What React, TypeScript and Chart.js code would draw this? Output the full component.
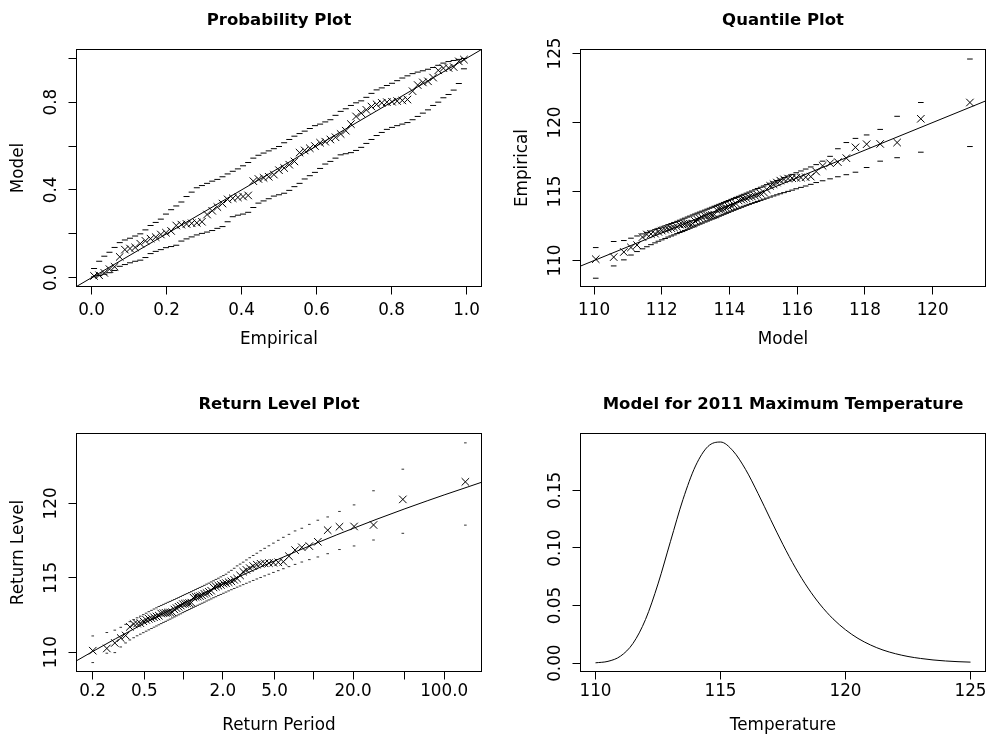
import React, { useEffect, useRef } from "react";
import { Chart, registerables } from "chart.js";

Chart.register(...registerables);

// ---------- Probability plot ----------
const empiricalProb = [
  0.0068, 0.0205, 0.0342, 0.0479, 0.0616, 0.0753, 0.089, 0.1027, 0.1164, 0.1301,
  0.1438, 0.1575, 0.1712, 0.1849, 0.1986, 0.2123, 0.226, 0.2397, 0.2534, 0.2671,
  0.2808, 0.2945, 0.3082, 0.3219, 0.3356, 0.3493, 0.363, 0.3767, 0.3904, 0.4041,
  0.4178, 0.4315, 0.4452, 0.4589, 0.4726, 0.4863, 0.5, 0.5137, 0.5274, 0.5411,
  0.5548, 0.5685, 0.5822, 0.5959, 0.6096, 0.6233, 0.637, 0.6507, 0.6644, 0.6781,
  0.6918, 0.7055, 0.7192, 0.7329, 0.7466, 0.7603, 0.774, 0.7877, 0.8014, 0.8151,
  0.8288, 0.8425, 0.8562, 0.8699, 0.8836, 0.8973, 0.911, 0.9247, 0.9384, 0.9521,
  0.9658, 0.9795, 0.9932,
];
const modelProb = [
  0.008, 0.011, 0.022, 0.039, 0.05, 0.095, 0.128, 0.133, 0.138, 0.155,
  0.168, 0.178, 0.185, 0.197, 0.205, 0.213, 0.238, 0.242, 0.245, 0.248,
  0.25, 0.255, 0.288, 0.305, 0.322, 0.338, 0.357, 0.362, 0.366, 0.37,
  0.375, 0.44, 0.45, 0.455, 0.46, 0.47, 0.49, 0.5, 0.515, 0.53,
  0.57, 0.58, 0.59, 0.6, 0.615, 0.62, 0.63, 0.64, 0.655, 0.67,
  0.7, 0.735, 0.75, 0.765, 0.78, 0.79, 0.797, 0.8, 0.802, 0.805,
  0.808, 0.812, 0.85, 0.878, 0.89, 0.895, 0.912, 0.945, 0.955, 0.956,
  0.96, 0.986, 0.994,
];
const probUpper = [
  0.042, 0.075, 0.098, 0.116, 0.138, 0.16, 0.172, 0.18, 0.19, 0.2,
  0.218, 0.238, 0.252, 0.267, 0.29, 0.31, 0.327, 0.345, 0.37, 0.39,
  0.41, 0.42, 0.43, 0.44, 0.448, 0.46, 0.473, 0.485, 0.496, 0.51,
  0.525, 0.545, 0.558, 0.568, 0.578, 0.588, 0.598, 0.615, 0.63, 0.645,
  0.657, 0.668, 0.68, 0.693, 0.7, 0.71, 0.72, 0.74, 0.758, 0.77,
  0.785, 0.797, 0.806, 0.822, 0.84, 0.856, 0.865, 0.876, 0.886, 0.898,
  0.91, 0.92, 0.93, 0.937, 0.943, 0.95, 0.958, 0.968, 0.978, 0.985,
  0.99, 0.995, 0.999,
];
const probLower = [
  0.004, 0.01, 0.016, 0.023, 0.033, 0.052, 0.06, 0.068, 0.075, 0.08,
  0.092, 0.11, 0.12, 0.128, 0.137, 0.142, 0.148, 0.167, 0.177, 0.186,
  0.195, 0.202, 0.208, 0.215, 0.225, 0.233, 0.255, 0.278, 0.285, 0.29,
  0.298, 0.32, 0.34, 0.35, 0.36, 0.372, 0.378, 0.385, 0.398, 0.415,
  0.43, 0.45, 0.465, 0.48, 0.498, 0.518, 0.53, 0.545, 0.56, 0.565,
  0.57, 0.58, 0.594, 0.612, 0.63, 0.648, 0.662, 0.676, 0.685, 0.693,
  0.7, 0.707, 0.72, 0.735, 0.75, 0.765, 0.785, 0.8, 0.82, 0.835,
  0.855, 0.885, 0.952,
];
const probAxisRange = [-0.04, 1.04];
const probTicks = [0, 0.2, 0.4, 0.6, 0.8, 1.0];
const probXLabels = ["0.0", "0.2", "0.4", "0.6", "0.8", "1.0"];
const probYLabelVals = [0, 0.4, 0.8];
const probYLabels = ["0.0", "0.4", "0.8"];

// ---------- Quantile plot ----------
const modelQuantile = [
  110.05, 110.58, 110.88, 111.09, 111.27, 111.43, 111.56, 111.68, 111.8, 111.9,
  112.0, 112.1, 112.19, 112.28, 112.36, 112.45, 112.53, 112.61, 112.68, 112.76,
  112.83, 112.91, 112.98, 113.05, 113.12, 113.19, 113.27, 113.34, 113.41, 113.48,
  113.55, 113.62, 113.69, 113.76, 113.83, 113.9, 113.97, 114.05, 114.12, 114.19,
  114.27, 114.35, 114.42, 114.5, 114.58, 114.66, 114.75, 114.83, 114.92, 115.01,
  115.1, 115.2, 115.3, 115.4, 115.5, 115.61, 115.73, 115.85, 115.97, 116.11,
  116.25, 116.4, 116.56, 116.75, 116.97, 117.2, 117.45, 117.72, 118.05, 118.45,
  118.95, 119.65, 121.1,
];
const observedTemp = [
  110.1, 110.25, 110.62, 110.95, 111.12, 111.7, 111.89, 111.92, 111.95, 112.08,
  112.17, 112.24, 112.28, 112.35, 112.4, 112.45, 112.6, 112.62, 112.64, 112.66,
  112.67, 112.69, 112.87, 112.96, 113.05, 113.13, 113.23, 113.26, 113.28, 113.3,
  113.33, 113.67, 113.72, 113.74, 113.77, 113.82, 113.92, 113.97, 114.05, 114.13,
  114.35, 114.41, 114.47, 114.52, 114.61, 114.64, 114.7, 114.76, 114.86, 114.95,
  115.16, 115.41, 115.53, 115.65, 115.79, 115.88, 115.94, 115.97, 115.99, 116.01,
  116.04, 116.08, 116.45, 116.86, 117.05, 117.13, 117.42, 118.2, 118.43, 118.45,
  118.55, 120.27, 121.45,
];
const quantUpper = [
  110.94, 111.38, 111.45, 111.62, 111.78, 111.93, 112.04, 112.14, 112.24, 112.33,
  112.42, 112.51, 112.6, 112.68, 112.76, 112.84, 112.92, 113.0, 113.07, 113.15,
  113.22, 113.3, 113.37, 113.44, 113.51, 113.58, 113.65, 113.72, 113.79, 113.86,
  113.93, 114.0, 114.07, 114.14, 114.21, 114.28, 114.35, 114.43, 114.5, 114.57,
  114.65, 114.73, 114.8, 114.88, 114.96, 115.04, 115.13, 115.22, 115.31, 115.4,
  115.5, 115.6, 115.7, 115.8, 115.9, 116.01, 116.12, 116.24, 116.36, 116.49,
  116.63, 116.78, 116.95, 117.2, 117.55, 118.1, 118.55, 118.85, 119.1, 119.5,
  120.45, 121.45, 124.6,
];
const quantLower = [
  108.72, 109.61, 110.05, 110.4, 110.65, 110.85, 111.0, 111.15, 111.28, 111.4,
  111.5, 111.6, 111.7, 111.78, 111.86, 111.95, 112.03, 112.1, 112.18, 112.26,
  112.34, 112.42, 112.5, 112.57, 112.64, 112.71, 112.79, 112.86, 112.93, 113.0,
  113.07, 113.14, 113.21, 113.28, 113.35, 113.42, 113.49, 113.57, 113.64, 113.71,
  113.78, 113.86, 113.93, 114.0, 114.07, 114.14, 114.21, 114.28, 114.36, 114.44,
  114.52, 114.6, 114.68, 114.76, 114.84, 114.92, 115.01, 115.1, 115.2, 115.3,
  115.4, 115.52, 115.65, 115.78, 115.92, 116.07, 116.22, 116.4, 116.74, 117.2,
  117.45, 117.85, 118.26,
];
const qqXRange = [109.6, 121.56];
const qqYRange = [108.12, 125.29];
const qqXTicks = [110, 112, 114, 116, 118, 120];
const qqXLabels = ["110", "112", "114", "116", "118", "120"];
const qqYTicks = [110, 115, 120, 125];
const qqYLabels = ["110", "115", "120", "125"];

// ---------- Return level plot ----------
const returnPeriod = [
  0.2007, 0.2574, 0.2964, 0.3292, 0.3589, 0.3867, 0.4134, 0.4395, 0.4651, 0.4904,
  0.5157, 0.5411, 0.5667, 0.5925, 0.6187, 0.6454, 0.6725, 0.7002, 0.7285, 0.7576,
  0.7874, 0.818, 0.8496, 0.8823, 0.9159, 0.9508, 0.9869, 1.0243, 1.0633, 1.1038,
  1.1459, 1.1898, 1.2358, 1.2839, 1.3342, 1.3872, 1.4427, 1.5013, 1.563, 1.6284,
  1.6972, 1.7705, 1.8484, 1.9316, 2.0202, 2.1155, 2.2173, 2.3272, 2.4456, 2.5747,
  2.7144, 2.867, 3.034, 3.2175, 3.4211, 3.6483, 3.9017, 4.1894, 4.5167, 4.89,
  5.3276, 5.8309, 6.4391, 7.1736, 8.0775, 9.2251, 10.723, 12.766, 15.716, 20.35,
  28.694, 48.17, 145.5,
];
const rlUpper = [
  111.09, 111.32, 111.48, 111.67, 111.87, 112.05, 112.19, 112.31, 112.42, 112.52,
  112.62, 112.72, 112.81, 112.9, 112.98, 113.07, 113.14, 113.21, 113.28, 113.35,
  113.41, 113.48, 113.54, 113.61, 113.67, 113.74, 113.81, 113.88, 113.94, 114.01,
  114.07, 114.14, 114.21, 114.28, 114.35, 114.42, 114.49, 114.57, 114.64, 114.72,
  114.8, 114.89, 114.97, 115.06, 115.15, 115.24, 115.38, 115.5, 115.64, 115.8,
  115.92, 116.05, 116.2, 116.35, 116.5, 116.65, 116.82, 116.98, 117.15, 117.33,
  117.52, 117.72, 117.92, 118.15, 118.33, 118.59, 118.87, 119.09, 119.46, 119.9,
  120.85, 122.3, 124.07,
];
const rlLower = [
  109.3, 109.93, 109.97, 110.35, 110.62, 110.82, 110.97, 111.1, 111.21, 111.31,
  111.41, 111.5, 111.59, 111.68, 111.76, 111.84, 111.92, 112.0, 112.07, 112.15,
  112.22, 112.3, 112.37, 112.44, 112.51, 112.58, 112.66, 112.73, 112.8, 112.87,
  112.94, 113.01, 113.08, 113.15, 113.22, 113.29, 113.36, 113.44, 113.51, 113.58,
  113.66, 113.73, 113.81, 113.88, 113.96, 114.04, 114.12, 114.2, 114.28, 114.37,
  114.45, 114.54, 114.63, 114.72, 114.82, 114.92, 115.02, 115.13, 115.24, 115.36,
  115.48, 115.61, 115.75, 115.9, 116.06, 116.22, 116.4, 116.62, 116.9, 117.14,
  117.54, 117.99, 118.54,
];
const rlLinePeriod = [0.1506, 0.2, 0.3, 0.5, 0.75, 1, 1.5, 2, 3, 5, 7.5, 10, 15, 20, 30, 50, 75, 100, 150, 193.5];
const rlLineLevel = [
  109.42, 110.04, 110.9, 111.94, 112.74, 113.29, 114.04, 114.56, 115.28, 116.14,
  116.81, 117.26, 117.89, 118.32, 118.92, 119.64, 120.19, 120.57, 121.09, 121.42,
];
const rlXRange = [0.1506, 193.5];
const rlYRange = [108.7, 124.7];
const rlXTicks = [0.2, 0.5, 1, 2, 5, 10, 20, 50, 100];
const rlXLabelVals = [0.2, 0.5, 2, 5, 20, 100];
const rlXLabels = ["0.2", "0.5", "2.0", "5.0", "20.0", "100.0"];
const rlYTicks = [110, 115, 120];
const rlYLabels = ["110", "115", "120"];

// ---------- Density for 2011 ----------
const densityTemp = [
  110, 110.5, 111, 111.5, 112, 112.5, 113, 113.5, 114, 114.5, 115, 115.5, 116, 116.5, 117, 117.5,
  118, 118.5, 119, 119.5, 120, 120.5, 121, 121.5, 122, 122.5, 123, 123.5, 124, 124.5, 125,
];
const densityValue = [
  0.0003, 0.0016, 0.0061, 0.0172, 0.0379, 0.0688, 0.1058, 0.1422, 0.1712, 0.1882, 0.192, 0.1843,
  0.1683, 0.1474, 0.1249, 0.1029, 0.0827, 0.0652, 0.0505, 0.0385, 0.029, 0.0215, 0.0158, 0.0114,
  0.0082, 0.0058, 0.0041, 0.0028, 0.0019, 0.0013, 0.0009,
];
const densXRange = [109.4, 125.6];
const densYRange = [-0.00723, 0.1994];
const densXTicks = [110, 115, 120, 125];
const densXLabels = ["110", "115", "120", "125"];
const densYTicks = [0, 0.05, 0.1, 0.15];
const densYLabels = ["0.00", "0.05", "0.10", "0.15"];

// ---------- helpers ----------
const FONT = '"DejaVu Sans", "Liberation Sans", Arial, sans-serif';
const CW = 495;
const CH = 369;

const rFramePlugin = {
  id: "rframe",
  afterDraw(chart: any, _args: any, opts: any) {
    const { ctx, chartArea: a, scales } = chart;
    ctx.save();
    ctx.strokeStyle = "#000";
    ctx.lineWidth = 1;
    ctx.strokeRect(a.left, a.top, a.right - a.left, a.bottom - a.top);
    ctx.fillStyle = "#000";
    ctx.textAlign = "center";
    const cx = (a.left + a.right) / 2;
    const cy = (a.top + a.bottom) / 2;
    ctx.font = `bold 16.5px ${FONT}`;
    ctx.textBaseline = "alphabetic";
    ctx.fillText(opts.title, cx, a.top - 24.5);
    ctx.font = `16.8px ${FONT}`;
    ctx.textBaseline = "middle";
    const xv: number[] = opts.xLabelVals;
    const xt: string[] = opts.xLabelText;
    for (let i = 0; i < xv.length; i++) {
      ctx.fillText(xt[i], scales.x.getPixelForValue(xv[i]), a.bottom + opts.xLabelOffset);
    }
    const yv: number[] = opts.yLabelVals;
    const yt: string[] = opts.yLabelText;
    for (let i = 0; i < yv.length; i++) {
      ctx.save();
      ctx.translate(a.left - 25, scales.y.getPixelForValue(yv[i]));
      ctx.rotate(-Math.PI / 2);
      ctx.fillText(yt[i], 0, 0);
      ctx.restore();
    }
    ctx.fillText(opts.xTitle, cx, a.bottom + opts.xTitleOffset);
    if (opts.yTitle) {
      ctx.save();
      ctx.translate(a.left - 57.5, cy);
      ctx.rotate(-Math.PI / 2);
      ctx.fillText(opts.yTitle, 0, 0);
      ctx.restore();
    }
    ctx.restore();
  },
};

function pts(xs: number[], ys: number[]) {
  return xs.map((x, i) => ({ x, y: ys[i] }));
}
function crossSet(xs: number[], ys: number[]) {
  return {
    data: pts(xs, ys),
    showLine: false,
    pointStyle: "crossRot",
    pointRadius: 5.3,
    pointBorderWidth: 1,
    pointBorderColor: "#000",
    pointBackgroundColor: "rgba(0,0,0,0)",
  };
}
function dashSet(xs: number[], ys: number[], r: number, color: string) {
  return {
    data: pts(xs, ys),
    showLine: false,
    pointStyle: "line",
    pointRadius: r,
    pointBorderWidth: 1,
    pointBorderColor: color,
    pointBackgroundColor: color,
  };
}
function lineSet(xs: number[], ys: number[], smooth: boolean) {
  return {
    data: pts(xs, ys),
    showLine: true,
    pointRadius: 0,
    borderColor: "#000",
    borderWidth: 1,
    fill: false,
    tension: 0,
    cubicInterpolationMode: smooth ? "monotone" : "default",
  };
}
function scale(type: string, range: number[], ticks: number[], fit: (s: any) => void) {
  return {
    type,
    min: range[0],
    max: range[1],
    afterBuildTicks: (s: any) => {
      s.ticks = ticks.map((v) => ({ value: v }));
    },
    afterFit: fit,
    ticks: { display: false },
    grid: {
      display: true,
      drawOnChartArea: false,
      drawTicks: true,
      tickLength: 8,
      color: "#000",
      lineWidth: 1,
    },
    border: { display: false },
  };
}

type Box = { left: number; right: number; top: number; bottom: number };

function makeConfig(
  box: Box,
  xType: string,
  xRange: number[],
  xTicks: number[],
  yRange: number[],
  yTicks: number[],
  datasets: any[],
  frame: any
) {
  return {
    type: "scatter",
    data: { datasets },
    options: {
      responsive: false,
      animation: false,
      devicePixelRatio: 1,
      events: [],
      layout: {
        autoPadding: false,
        padding: { left: 0, top: box.top, right: CW - box.right, bottom: 0 },
      },
      plugins: { legend: { display: false }, tooltip: { enabled: false }, rframe: frame },
      scales: {
        x: scale(xType, xRange, xTicks, (s: any) => {
          s.height = CH - box.bottom;
        }),
        y: scale("linear", yRange, yTicks, (s: any) => {
          s.width = box.left;
        }),
      },
    },
    plugins: [rFramePlugin],
  };
}

function Panel({ left, top, build }: { left: number; top: number; build: () => any }) {
  const ref = useRef<HTMLCanvasElement | null>(null);
  useEffect(() => {
    const chart = new Chart(ref.current as HTMLCanvasElement, build());
    return () => chart.destroy();
  }, []);
  return (
    <canvas
      ref={ref}
      width={CW}
      height={CH}
      style={{ position: "absolute", left, top, width: CW, height: CH }}
    />
  );
}

const boxTopLeft: Box = { left: 76.5, right: 481.5, top: 49.5, bottom: 286.5 };
const boxTopRight: Box = { left: 85.5, right: 490.5, top: 49.5, bottom: 286.5 };
const boxBottomLeft: Box = { left: 76.5, right: 481.5, top: 64.5, bottom: 302.5 };
const boxBottomRight: Box = { left: 85.5, right: 490.5, top: 64.5, bottom: 302.5 };

const buildProb = () =>
  makeConfig(
    boxTopLeft,
    "linear",
    probAxisRange,
    probTicks,
    probAxisRange,
    probTicks,
    [
      crossSet(empiricalProb, modelProb),
      dashSet(empiricalProb, probUpper, 3, "#000"),
      dashSet(empiricalProb, probLower, 3, "#000"),
      lineSet(probAxisRange, probAxisRange, false),
    ],
    {
      title: "Probability Plot",
      xTitle: "Empirical",
      yTitle: "Model",
      xLabelVals: probTicks,
      xLabelText: probXLabels,
      yLabelVals: probYLabelVals,
      yLabelText: probYLabels,
      xLabelOffset: 23.8,
      xTitleOffset: 53.5,
    }
  );

const buildQuant = () =>
  makeConfig(
    boxTopRight,
    "linear",
    qqXRange,
    qqXTicks,
    qqYRange,
    qqYTicks,
    [
      crossSet(modelQuantile, observedTemp),
      dashSet(modelQuantile, quantUpper, 2.8, "#000"),
      dashSet(modelQuantile, quantLower, 2.8, "#000"),
      lineSet(qqXRange, qqXRange, false),
    ],
    {
      title: "Quantile Plot",
      xTitle: "Model",
      yTitle: "Empirical",
      xLabelVals: qqXTicks,
      xLabelText: qqXLabels,
      yLabelVals: qqYTicks,
      yLabelText: qqYLabels,
      xLabelOffset: 23.8,
      xTitleOffset: 53.5,
    }
  );

const buildReturn = () =>
  makeConfig(
    boxBottomLeft,
    "logarithmic",
    rlXRange,
    rlXTicks,
    rlYRange,
    rlYTicks,
    [
      crossSet(returnPeriod, observedTemp),
      dashSet(returnPeriod, rlUpper, 1.3, "#333"),
      dashSet(returnPeriod, rlLower, 1.3, "#333"),
      lineSet(rlLinePeriod, rlLineLevel, true),
    ],
    {
      title: "Return Level Plot",
      xTitle: "Return Period",
      yTitle: "Return Level",
      xLabelVals: rlXLabelVals,
      xLabelText: rlXLabels,
      yLabelVals: rlYTicks,
      yLabelText: rlYLabels,
      xLabelOffset: 20.5,
      xTitleOffset: 54,
    }
  );

const buildDensity = () =>
  makeConfig(
    boxBottomRight,
    "linear",
    densXRange,
    densXTicks,
    densYRange,
    densYTicks,
    [lineSet(densityTemp, densityValue, true)],
    {
      title: "Model for 2011 Maximum Temperature",
      xTitle: "Temperature",
      yTitle: "",
      xLabelVals: densXTicks,
      xLabelText: densXLabels,
      yLabelVals: densYTicks,
      yLabelText: densYLabels,
      xLabelOffset: 20.5,
      xTitleOffset: 54,
    }
  );

export default function App() {
  return (
    <div
      style={{
        position: "absolute",
        left: 0,
        top: 0,
        width: 990,
        height: 738,
        background: "#fff",
        overflow: "hidden",
      }}
    >
      <Panel left={0} top={0} build={buildProb} />
      <Panel left={495} top={0} build={buildQuant} />
      <Panel left={0} top={369} build={buildReturn} />
      <Panel left={495} top={369} build={buildDensity} />
    </div>
  );
}
